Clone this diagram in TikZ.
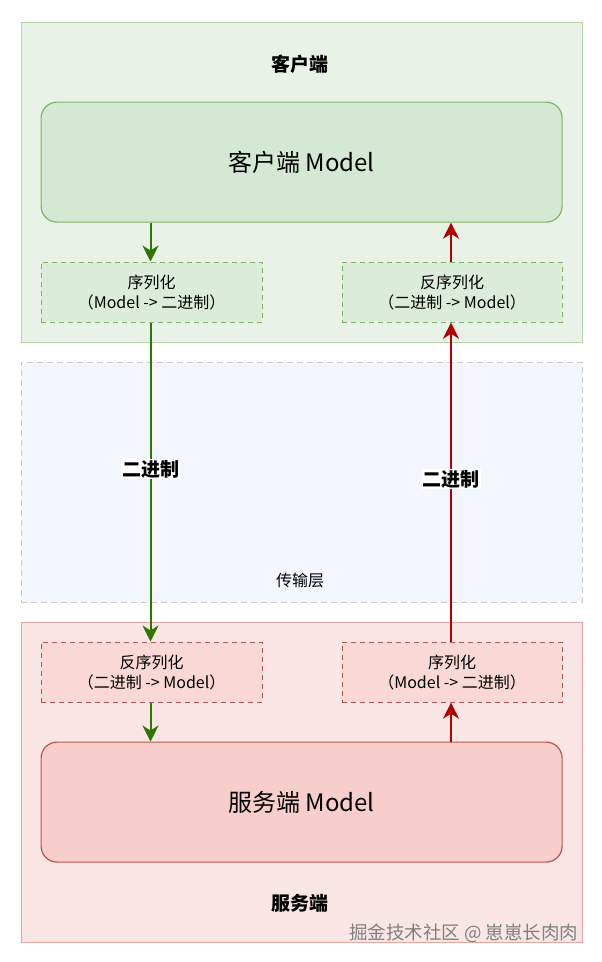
\documentclass[tikz,border=0pt]{standalone}
\usepackage{fontspec}
\setmainfont{Noto Sans CJK SC}
\usetikzlibrary{arrows.meta}
\definecolor{gouter}{HTML}{E8F2E6}
\definecolor{gouterline}{HTML}{B5D3A7}
\definecolor{gfill}{HTML}{D5E8D4}
\definecolor{gline}{HTML}{82B366}
\definecolor{gdash}{HTML}{DCECDA}
\definecolor{router}{HTML}{FBE6E6}
\definecolor{routerline}{HTML}{E2A7A5}
\definecolor{rfill}{HTML}{F8CECC}
\definecolor{rline}{HTML}{B85450}
\definecolor{rdash}{HTML}{F9D8D6}
\definecolor{tfill}{HTML}{F3F6FC}
\definecolor{tline}{HTML}{CCCCCC}
\definecolor{garrow}{HTML}{2D7600}
\definecolor{rarrow}{HTML}{B20000}
\tikzset{
  outerbox/.style={draw=#1, line width=1pt, minimum width=561pt, minimum height=320pt, inner sep=0pt},
  modelbox/.style={rounded corners=16pt, line width=1.2pt, minimum width=521pt, minimum height=120pt, font=\fontsize{24}{28}\selectfont, inner sep=0pt},
  dashbox/.style={dashed, dash pattern=on 5pt off 4pt, line width=1.2pt, minimum width=221pt, minimum height=60pt, font=\fontsize{16}{20}\selectfont, align=center, inner sep=0pt},
  title/.style={font=\fontsize{19}{22}\selectfont\bfseries},
  flowlbl/.style={fill=white, text=black, font=\fontsize{19}{22}\selectfont\bfseries, inner sep=1pt},
  garr/.style={draw=garrow, line width=2pt, -{Stealth[length=16pt,width=16pt,inset=5pt]}, color=garrow},
  rarr/.style={draw=rarrow, line width=2pt, -{Stealth[length=16pt,width=16pt,inset=5pt]}, color=rarrow},
}
\begin{document}
\begin{tikzpicture}[x=1pt,y=-1pt]
\useasboundingbox (0,0) rectangle (602,962);
\fill[white] (0,0) rectangle (602,962);
% outer boxes
\node[outerbox=gouterline, fill=gouter, anchor=north west] (client) at (20.5,21.5) {};
\node[outerbox=tline, fill=tfill, dashed, dash pattern=on 6pt off 4pt, minimum height=240pt, anchor=north west] (trans) at (20.5,361.5) {};
\node[outerbox=routerline, fill=router, anchor=north west] (server) at (20.5,621.5) {};
% titles
\node[title] (ctitle) at (300,64) {客户端};
\node[font=\fontsize{16}{20}\selectfont] (ttitle) at (300,580) {传输层};
\node[title] (stitle) at (300,903) {服务端};
% models
\node[modelbox, draw=gline, fill=gfill, anchor=north west] (cmodel) at (40.5,101.5) {客户端 Model};
\node[modelbox, draw=rline, fill=rfill, anchor=north west] (smodel) at (40.5,741.5) {服务端 Model};
% dashed boxes
\node[dashbox, draw=gline, fill=gdash, anchor=north west] (cser) at (40.5,261.5) {序列化\\（Model -> 二进制）};
\node[dashbox, draw=gline, fill=gdash, minimum width=220pt, anchor=north west] (cdes) at (341.5,261.5) {反序列化\\（二进制 -> Model）};
\node[dashbox, draw=rline, fill=rdash, anchor=north west] (sdes) at (40.5,641.5) {反序列化\\（二进制 -> Model）};
\node[dashbox, draw=rline, fill=rdash, minimum width=220pt, anchor=north west] (sser) at (341.5,641.5) {序列化\\（Model -> 二进制）};
% green flow
\draw[garr] (cmodel.south -| 150.5,0) -- (cser.north -| 150.5,0);
\draw[garr] (cser.south -| 150.5,0) -- node[flowlbl, pos=0.46] (glbl) {二进制} (sdes.north -| 150.5,0);
\draw[garr] (sdes.south -| 150.5,0) -- (smodel.north -| 150.5,0);
% red flow
\draw[rarr] (smodel.north -| 451,0) -- (sser.south -| 451,0);
\draw[rarr] (sser.north -| 451,0) -- node[flowlbl, pos=0.51] (rlbl) {二进制} (cdes.south -| 451,0);
\draw[rarr] (cdes.north -| 451,0) -- (cmodel.south -| 451,0);
% watermark
\node[font=\fontsize{18.5}{22}\selectfont, text=black!50, anchor=east] (wm) at (582,933) {掘金技术社区 @ 崽崽长肉肉};
\end{tikzpicture}
\end{document}
